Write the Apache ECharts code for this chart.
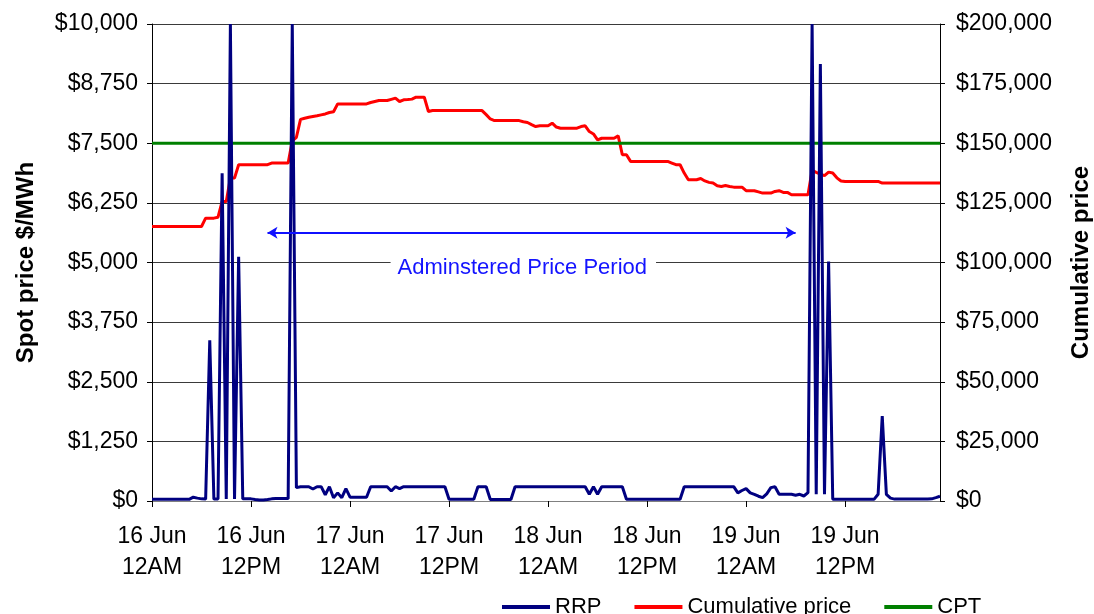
<!DOCTYPE html>
<html>
<head>
<meta charset="utf-8">
<script src="https://cdn.jsdelivr.net/npm/echarts@6/dist/echarts.min.js"></script>
<style>html,body{margin:0;padding:0;background:#fff;}#chart{width:1094px;height:614px;}</style>
</head>
<body>
<div id="chart"></div>
<script>
// Half-hourly intervals from 16 Jun 00:00 (192 intervals)
var categories = [];
var days = ['16 Jun', '17 Jun', '18 Jun', '19 Jun'];
for (var d = 0; d < 4; d++) {
  for (var h = 0; h < 48; h++) {
    var hh = Math.floor(h / 2), mm = (h % 2) ? '30' : '00';
    categories.push(days[d] + ' ' + (hh < 10 ? '0' + hh : hh) + ':' + mm);
  }
}
var tickLabels = ['16 Jun\n12AM', '16 Jun\n12PM', '17 Jun\n12AM', '17 Jun\n12PM',
                  '18 Jun\n12AM', '18 Jun\n12PM', '19 Jun\n12AM', '19 Jun\n12PM'];

// RRP spot price ($/MWh), left axis
var rrp = [
  35,35,35,35,35,35,35,35,35,35,
  80,60,45,40,3370,40,40,6870,40,10000,
  40,5120,45,45,45,30,20,20,30,45,
  50,50,50,50,10000,280,300,300,300,250,
  300,300,130,300,70,170,70,260,80,80,
  80,80,80,300,300,300,300,300,210,300,
  260,300,300,300,300,300,300,300,300,300,
  300,300,35,35,35,35,35,35,35,300,
  300,300,30,30,30,30,30,30,300,300,
  300,300,300,300,300,300,300,300,300,300,
  300,300,300,300,300,300,140,300,140,300,
  300,300,300,300,300,35,35,35,35,35,
  35,35,35,35,35,35,35,35,35,300,
  300,300,300,300,300,300,300,300,300,300,
  300,300,170,220,260,170,140,100,70,150,
  280,300,140,140,140,140,120,140,105,175,
  10000,140,9160,140,5020,35,35,35,35,35,
  35,35,35,35,35,35,140,1780,140,60,
  40,40,40,40,40,40,40,40,40,45,
  70,100
];

// Cumulative price ($), right axis
var cumulative = [
  115100,115100,115100,115100,115100,115100,115100,115100,115100,115100,
  115100,115100,115100,118600,118600,118600,119000,125600,125600,135400,
  135400,141000,141000,141000,141000,141000,141000,141000,141000,141700,
  141700,141700,141700,141700,151000,152500,160000,160500,160900,161200,
  161500,161900,162300,162900,163200,166500,166500,166500,166500,166500,
  166500,166500,166500,167100,167500,167900,167900,167900,168400,168900,
  167500,168200,168300,168500,169300,169300,169300,163300,163700,163700,
  163700,163700,163700,163700,163700,163700,163700,163700,163700,163700,
  163700,162000,160200,159500,159500,159500,159500,159500,159500,159500,
  159000,158700,157800,157000,157300,157300,157300,158400,156800,156300,
  156300,156300,156300,156300,157000,157300,154900,153900,151400,152100,
  152100,152100,152100,153100,145200,145200,142400,142400,142400,142400,
  142400,142400,142400,142400,142400,142400,141700,141000,141000,137500,
  134700,134700,134700,135200,134200,133600,133300,132200,131900,132300,
  131900,131600,131600,131600,130100,130100,130100,129600,129100,129100,
  129100,129800,130100,129400,129400,128400,128400,128400,128400,128400,
  138600,137800,137100,136400,137900,137500,135500,134200,134000,134000,
  134000,134000,134000,134000,134000,134000,134000,133300,133300,133300,
  133300,133300,133300,133300,133300,133300,133300,133300,133300,133300,
  133300,133300
];

var cptValue = 150000;
var leftTicks = { min: 0, max: 10000, interval: 1250 };
var rightTicks = { min: 0, max: 200000, interval: 25000 };
var periodArrow = { start: 28, end: 156, value: 5625 };
var periodLabel = { text: 'Adminstered Price Period', at: 90, value: 4890 };

function money(v) {
  return '$' + String(v).replace(/\B(?=(\d{3})+(?!\d))/g, ',');
}

var FONT = "'Liberation Sans', Arial, sans-serif";
var chart = echarts.init(document.getElementById('chart'), null, { renderer: 'canvas' });
chart.setOption({
  animation: false,
  backgroundColor: '#ffffff',
  textStyle: { fontFamily: FONT },
  grid: { left: 152, right: 154, top: 24, bottom: 113, containLabel: false, outerBoundsMode: 'none' },
  legend: {
    left: 497, top: 591,
    itemWidth: 48, itemHeight: 4, itemGap: 33,
    icon: 'rect',
    textStyle: { fontFamily: FONT, fontSize: 22, color: '#000' },
    data: ['RRP', 'Cumulative price', 'CPT']
  },
  xAxis: {
    type: 'category',
    data: categories,
    boundaryGap: false,
    axisLine: { lineStyle: { color: '#808080', width: 1 } },
    axisTick: { interval: 23, length: 6, lineStyle: { color: '#000' } },
    axisLabel: {
      interval: 23,
      margin: 20,
      fontFamily: FONT, fontSize: 23, color: '#000', lineHeight: 31,
      formatter: function (v, i) { return tickLabels[i / 24] || ''; }
    },
    splitLine: { show: false }
  },
  yAxis: [
    {
      type: 'value', position: 'left',
      min: leftTicks.min, max: leftTicks.max, interval: leftTicks.interval,
      name: 'Spot price $/MWh', nameLocation: 'middle', nameRotate: 90, nameGap: 114,
      nameTextStyle: { fontFamily: FONT, fontSize: 24, fontWeight: 'bold', color: '#000' },
      axisLine: { show: true, lineStyle: { color: '#000' } },
      axisTick: { show: true, length: 5, lineStyle: { color: '#000' } },
      axisLabel: { margin: 14, fontFamily: FONT, fontSize: 23, color: '#000', formatter: money },
      splitLine: { show: true, lineStyle: { color: '#3a3a3a', width: 1 } }
    },
    {
      type: 'value', position: 'right',
      min: rightTicks.min, max: rightTicks.max, interval: rightTicks.interval,
      name: 'Cumulative price', nameLocation: 'middle', nameRotate: 90, nameGap: 129,
      nameTextStyle: { fontFamily: FONT, fontSize: 24, fontWeight: 'bold', color: '#000' },
      axisLine: { show: true, lineStyle: { color: '#000' } },
      axisTick: { show: true, length: 5, lineStyle: { color: '#000' } },
      axisLabel: { margin: 16, fontFamily: FONT, fontSize: 23, color: '#000', formatter: money },
      splitLine: { show: false }
    }
  ],
  series: [
    {
      name: 'RRP', type: 'line', yAxisIndex: 0, data: rrp,
      symbol: 'none', z: 3,
      lineStyle: { color: '#000080', width: 3 },
      itemStyle: { color: '#000080' },
      markLine: {
        silent: true, animation: false,
        symbol: ['arrow', 'arrow'], symbolSize: [9, 10],
        lineStyle: { color: '#1010ff', width: 2, type: 'solid' },
        label: { show: false },
        data: [[
          { coord: [categories[periodArrow.start], periodArrow.value] },
          { coord: [categories[periodArrow.end], periodArrow.value] }
        ]]
      },
      markPoint: {
        silent: true, animation: false,
        symbol: 'rect', symbolSize: 1,
        itemStyle: { color: 'rgba(0,0,0,0)' },
        label: {
          show: true, position: 'inside',
          formatter: periodLabel.text,
          fontFamily: FONT, fontSize: 22, color: '#1414ff',
          backgroundColor: '#ffffff', padding: [4, 9, 4, 7]
        },
        data: [{ coord: [categories[periodLabel.at], periodLabel.value] }]
      }
    },
    {
      name: 'Cumulative price', type: 'line', yAxisIndex: 1, data: cumulative,
      symbol: 'none', z: 2,
      lineStyle: { color: '#ff0000', width: 3 },
      itemStyle: { color: '#ff0000' }
    },
    {
      name: 'CPT', type: 'line', yAxisIndex: 1,
      data: [[categories[0], cptValue], [categories[categories.length - 1], cptValue]],
      symbol: 'none', z: 2,
      lineStyle: { color: '#008000', width: 3 },
      itemStyle: { color: '#008000' }
    }
  ]
});
</script>
</body>
</html>
